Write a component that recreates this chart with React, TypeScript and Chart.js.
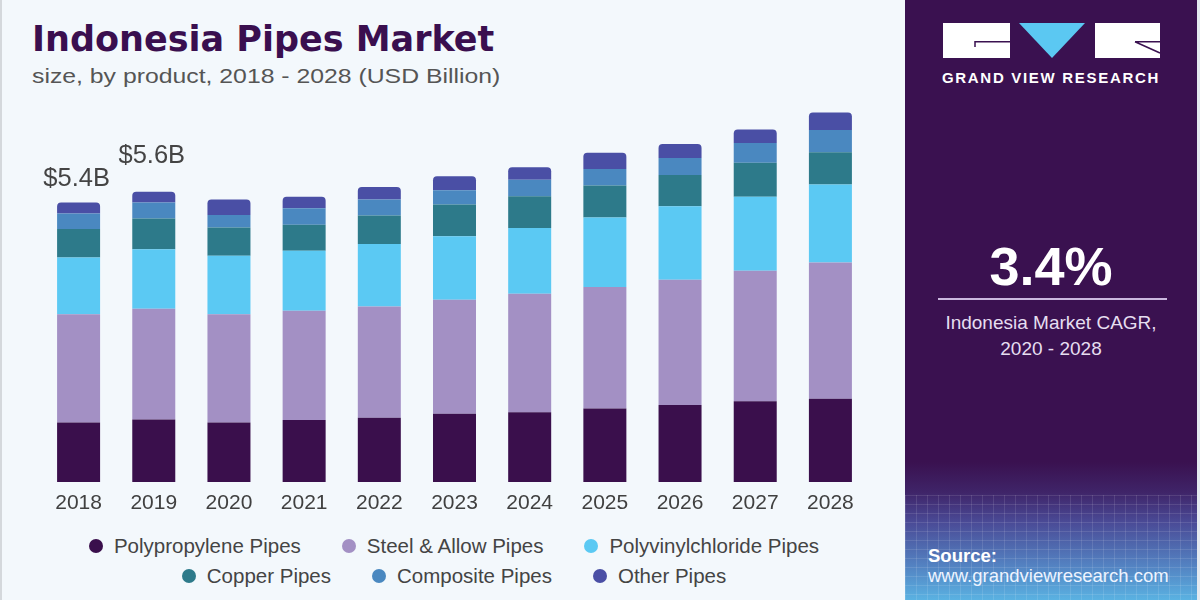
import React, { useEffect, useRef } from "react";
import { Chart, registerables } from "chart.js";

Chart.register(...registerables);

// ---------- data ----------
const YEARS = ["2018", "2019", "2020", "2021", "2022", "2023", "2024", "2025", "2026", "2027", "2028"];
const POLYPROPYLENE = [1.15, 1.21, 1.15, 1.2, 1.24, 1.32, 1.35, 1.42, 1.49, 1.56, 1.61];
const STEEL_ALLOW = [2.09, 2.14, 2.09, 2.11, 2.15, 2.2, 2.29, 2.35, 2.42, 2.52, 2.63];
const PVC = [1.1, 1.15, 1.13, 1.16, 1.21, 1.23, 1.27, 1.34, 1.42, 1.43, 1.51];
const COPPER = [0.55, 0.59, 0.55, 0.5, 0.55, 0.61, 0.61, 0.62, 0.6, 0.66, 0.62];
const COMPOSITE = [0.3, 0.31, 0.24, 0.32, 0.31, 0.28, 0.32, 0.32, 0.33, 0.38, 0.43];
const OTHER = [0.21, 0.21, 0.3, 0.22, 0.24, 0.27, 0.24, 0.31, 0.27, 0.26, 0.34];

const SERIES_NAMES = [
  "Polypropylene Pipes",
  "Steel & Allow Pipes",
  "Polyvinylchloride Pipes",
  "Copper Pipes",
  "Composite Pipes",
  "Other Pipes",
];
const SERIES_VALUES = [POLYPROPYLENE, STEEL_ALLOW, PVC, COPPER, COMPOSITE, OTHER];
const SERIES_COLORS = ["#3a0f4c", "#a390c4", "#5bc9f3", "#2d7a8a", "#4a88c0", "#4a4fa5"];

const TOTAL_LABELS = ["$5.4B", "$5.6B"];
const TOTAL_LABEL_INDEX = [0, 1];

const LEGEND_ROWS = [
  [0, 1, 2],
  [3, 4, 5],
];

// ---------- styles ----------
const SANS = '"Liberation Sans", Arial, sans-serif';
const PANEL_BG = "#3a1150";
const LABEL_LIFT = [17, 29];

const totalsPlugin = {
  id: "totals",
  afterDatasetsDraw(chart: any) {
    const ctx = chart.ctx;
    const meta = chart.getDatasetMeta(SERIES_VALUES.length - 1);
    ctx.save();
    ctx.font = `25.5px ${SANS}`;
    ctx.fillStyle = "#444444";
    ctx.textAlign = "center";
    ctx.textBaseline = "alphabetic";
    TOTAL_LABELS.forEach((lab, i) => {
      const el = meta.data[TOTAL_LABEL_INDEX[i]];
      if (!el) return;
      ctx.fillText(lab, el.x - 2, el.y - LABEL_LIFT[i]);
    });
    ctx.restore();
  },
};

function BarChart() {
  const ref = useRef<HTMLCanvasElement | null>(null);
  useEffect(() => {
    if (!ref.current) return;
    const last = SERIES_VALUES.length - 1;
    const chart = new Chart(ref.current, {
      type: "bar",
      data: {
        labels: YEARS,
        datasets: SERIES_VALUES.map((vals, i) => ({
          label: SERIES_NAMES[i],
          data: vals,
          backgroundColor: SERIES_COLORS[i],
          borderWidth: 0,
          borderRadius: i === last ? { topLeft: 4, topRight: 4, bottomLeft: 0, bottomRight: 0 } : 0,
          borderSkipped: i === last ? "start" : false,
          barPercentage: 0.572,
          categoryPercentage: 1,
        })),
      },
      options: {
        responsive: false,
        animation: false,
        devicePixelRatio: 1,
        layout: { padding: { left: 41, right: 32, top: 68, bottom: 0 } },
        plugins: {
          legend: { display: false },
          tooltip: { enabled: false },
          title: { display: false },
        },
        scales: {
          x: {
            stacked: true,
            grid: { display: false, drawTicks: false },
            border: { display: false },
            ticks: {
              color: "#404040",
              font: { family: SANS, size: 21 },
              padding: 9,
            },
            afterFit: (scale: any) => {
              scale.height = 38;
            },
          },
          y: {
            stacked: true,
            display: false,
            min: 0,
            max: 8,
          },
        },
      },
      plugins: [totalsPlugin],
    });
    return () => chart.destroy();
  }, []);
  return (
    <canvas
      ref={ref}
      width={900}
      height={520}
      style={{ position: "absolute", left: 0, top: 0, width: 900, height: 520 }}
    />
  );
}

function Legend() {
  return (
    <>
      {LEGEND_ROWS.map((row, r) => (
        <div
          key={r}
          style={{
            position: "absolute",
            left: 0,
            width: 908,
            top: 546 + r * 30 - 12,
            height: 24,
            display: "flex",
            justifyContent: "center",
            alignItems: "center",
            gap: 41,
          }}
        >
          {row.map((idx) => (
            <div key={idx} style={{ display: "flex", alignItems: "center" }}>
              <span
                style={{
                  width: 14,
                  height: 14,
                  borderRadius: 7,
                  background: SERIES_COLORS[idx],
                  display: "inline-block",
                  marginRight: 11,
                }}
              />
              <span style={{ font: `20.5px ${SANS}`, color: "#444444", whiteSpace: "nowrap" }}>
                {SERIES_NAMES[idx]}
              </span>
            </div>
          ))}
        </div>
      ))}
    </>
  );
}

function SidePanel() {
  return (
    <div
      style={{
        position: "absolute",
        left: 905,
        top: 0,
        width: 292,
        height: 600,
        background: `linear-gradient(to bottom, ${PANEL_BG} 0%, ${PANEL_BG} 77%, #3f2468 82%, #4a4a96 87%, #5380c0 94%, #5ab2e2 100%)`,
        overflow: "hidden",
      }}
    >
      <div
        style={{
          position: "absolute",
          left: 0,
          top: 495,
          width: 292,
          height: 105,
          backgroundImage:
            "repeating-linear-gradient(to right, rgba(255,255,255,0.11) 0px, rgba(255,255,255,0.11) 1px, transparent 1px, transparent 11px), repeating-linear-gradient(to bottom, rgba(255,255,255,0.11) 0px, rgba(255,255,255,0.11) 1px, transparent 1px, transparent 9px)",
        }}
      />
      <svg width={292} height={100} style={{ position: "absolute", left: 0, top: 0 }}>
        <rect x={38} y={23} width={67} height={35} fill="#ffffff" />
        <path d="M70 47 L70 41.7 L105 41.7" stroke={PANEL_BG} strokeWidth={1.5} fill="none" />
        <polygon points="114,23 180,23 147,58" fill="#5bc8f2" />
        <rect x={190} y={23} width={65} height={35} fill="#ffffff" />
        <path d="M230 41.7 L255 41.7 M230 41.7 L255 53" stroke={PANEL_BG} strokeWidth={1.5} fill="none" />
      </svg>
      <div
        style={{
          position: "absolute",
          left: 0,
          width: 292,
          top: 70,
          textAlign: "center",
          font: `bold 15px ${SANS}`,
          letterSpacing: 1.7,
          color: "#ffffff",
          lineHeight: "15px",
        }}
      >
        GRAND VIEW RESEARCH
      </div>
      <div
        style={{
          position: "absolute",
          left: 0,
          width: 292,
          top: 239,
          textAlign: "center",
          font: `bold 54px ${SANS}`,
          color: "#ffffff",
          lineHeight: "54px",
        }}
      >
        3.4%
      </div>
      <div style={{ position: "absolute", left: 33, top: 298, width: 229, height: 2, background: "#cbb8df" }} />
      <div
        style={{
          position: "absolute",
          left: 0,
          width: 292,
          top: 310,
          textAlign: "center",
          font: `19px ${SANS}`,
          color: "#e6def0",
          lineHeight: "26px",
        }}
      >
        Indonesia Market CAGR,
        <br />
        2020 - 2028
      </div>
      <div
        style={{
          position: "absolute",
          left: 23,
          top: 546,
          font: `bold 18.5px ${SANS}`,
          color: "#ffffff",
          lineHeight: "20px",
        }}
      >
        Source:
      </div>
      <div
        style={{
          position: "absolute",
          left: 23,
          top: 566,
          font: `18.5px ${SANS}`,
          color: "#eef4ff",
          lineHeight: "20px",
        }}
      >
        www.grandviewresearch.com
      </div>
    </div>
  );
}

export default function App() {
  return (
    <div
      style={{
        position: "fixed",
        left: 0,
        top: 0,
        width: 1200,
        height: 600,
        background: "#f3f8fc",
        overflow: "hidden",
      }}
    >
      <div style={{ position: "absolute", left: 0, top: 0, width: 2, height: 600, background: "#d4d8dc" }} />
      <div style={{ position: "absolute", left: 1197, top: 0, width: 3, height: 600, background: "#e4eaf0" }} />
      <div
        style={{
          position: "absolute",
          left: 32,
          top: 22,
          font: `bold 35px "DejaVu Sans", ${SANS}`,
          color: "#3a0f4f",
          lineHeight: "35px",
          whiteSpace: "nowrap",
        }}
      >
        Indonesia Pipes Market
      </div>
      <div
        style={{
          position: "absolute",
          left: 32,
          top: 65,
          font: `21px ${SANS}`,
          color: "#555555",
          lineHeight: "21px",
          whiteSpace: "nowrap",
          transform: "scaleX(1.18)",
          transformOrigin: "left top",
        }}
      >
        size, by product, 2018 - 2028 (USD Billion)
      </div>
      <BarChart />
      <Legend />
      <SidePanel />
    </div>
  );
}
